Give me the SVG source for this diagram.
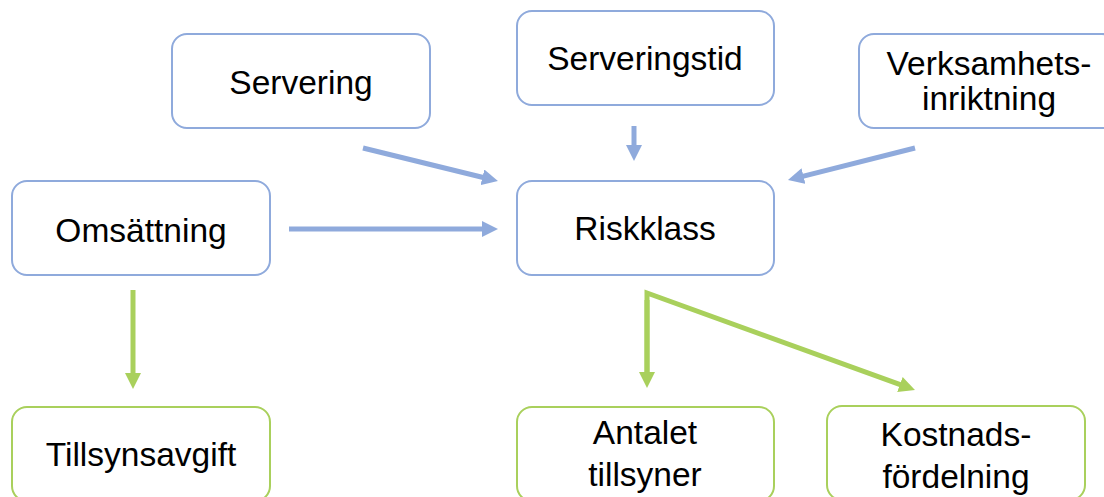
<svg xmlns="http://www.w3.org/2000/svg" width="1104" height="497" viewBox="0 0 1104 497">
<style>
.box{fill:#fff;stroke-width:2}
.b{stroke:#8faadc}
.g{stroke:#a9d05c}
text{font-family:"Liberation Sans",Arial,sans-serif;font-size:33.5px;fill:#000;text-anchor:middle}
.cb{fill:none;stroke:#8faadc;stroke-width:5}
.cg{fill:none;stroke:#a9d05c;stroke-width:5;stroke-linejoin:miter}
</style>
<defs>
<marker id="ab" viewBox="0 0 16 16" refX="4" refY="8" markerWidth="16" markerHeight="16" markerUnits="userSpaceOnUse" orient="auto"><path d="M0,0 L16,8 L0,16 z" fill="#8faadc"/></marker>
<marker id="ag" viewBox="0 0 16 16" refX="4" refY="8" markerWidth="16" markerHeight="16" markerUnits="userSpaceOnUse" orient="auto"><path d="M0,0 L16,8 L0,16 z" fill="#a9d05c"/></marker>
</defs>
<rect width="1104" height="497" fill="#fff"/>
<g id="connectors">
<path class="cb" d="M363,148 L486.3,178.2" marker-end="url(#ab)"/>
<path class="cb" d="M289,229 L486,229" marker-end="url(#ab)"/>
<path class="cb" d="M634,126 L634,149" marker-end="url(#ab)"/>
<path class="cb" d="M915,148 L799.6,177.1" marker-end="url(#ab)"/>
<path class="cg" d="M133,290 L133,377" marker-end="url(#ag)"/>
<path class="cg" d="M647,376 L647,293 L903.7,385.9" marker-end="url(#ag)"/>
<path class="cg" d="M647,300 L647,376" marker-end="url(#ag)"/>
</g>
<g id="servering"><rect class="box b" x="172" y="34" width="258" height="94" rx="15"/><text x="301" y="94">Servering</text></g>
<g id="serveringstid"><rect class="box b" x="517" y="11" width="257" height="94" rx="15"/><text x="645" y="70">Serveringstid</text></g>
<g id="verksamhetsinriktning"><rect class="box b" x="859" y="34" width="258" height="94" rx="15"/><text x="989" y="75">Verksamhets-</text><text x="989" y="110">inriktning</text></g>
<g id="omsattning"><rect class="box b" x="12" y="181" width="258" height="94" rx="15"/><text x="141" y="242">Omsättning</text></g>
<g id="riskklass"><rect class="box b" x="517" y="181" width="257" height="94" rx="15"/><text x="645" y="240">Riskklass</text></g>
<g id="tillsynsavgift"><rect class="box g" x="12" y="407" width="258" height="94" rx="15"/><text x="141" y="466">Tillsynsavgift</text></g>
<g id="antalet"><rect class="box g" x="517" y="407" width="257" height="94" rx="15"/><text x="645" y="444">Antalet</text><text x="645" y="486">tillsyner</text></g>
<g id="kostnadsfordelning"><rect class="box g" x="827" y="406" width="258" height="94" rx="15"/><text x="956" y="446">Kostnads-</text><text x="956" y="488">fördelning</text></g>
</svg>
